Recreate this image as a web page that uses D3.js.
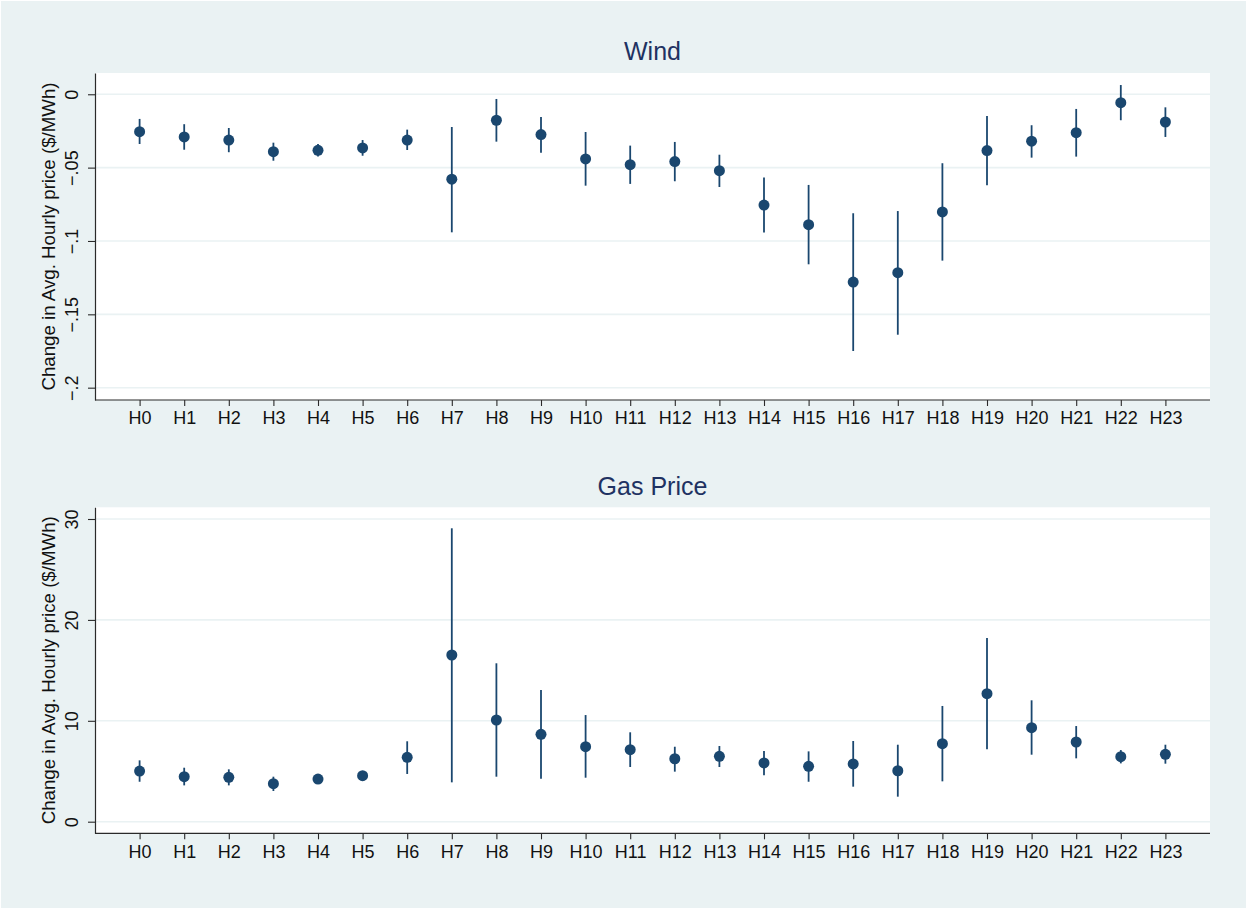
<!DOCTYPE html>
<html>
<head>
<meta charset="utf-8">
<script src="https://cdn.jsdelivr.net/npm/d3@7"></script>
<style>
  html, body { margin: 0; padding: 0; background: #ffffff; }
  svg { display: block; }
  text { font-family: "Liberation Sans", Arial, Helvetica, sans-serif; }
</style>
</head>
<body>
<svg id="chart" width="1247" height="910"></svg>
<script>
// ---- Data ----
const hours = ["H0","H1","H2","H3","H4","H5","H6","H7","H8","H9","H10","H11",
               "H12","H13","H14","H15","H16","H17","H18","H19","H20","H21","H22","H23"];

const windCoef = [-0.0255,-0.0291,-0.0312,-0.0391,-0.0382,-0.0366,-0.0312,-0.0579,-0.0177,-0.0275,-0.0441,-0.0480,
                  -0.0459,-0.0521,-0.0755,-0.0889,-0.1280,-0.1216,-0.0802,-0.0384,-0.0320,-0.0262,-0.0057,-0.0189];
const windLo   = [-0.0339,-0.0378,-0.0395,-0.0453,-0.0425,-0.0419,-0.0380,-0.0941,-0.0323,-0.0398,-0.0623,-0.0611,
                  -0.0593,-0.0632,-0.0943,-0.1159,-0.1750,-0.1639,-0.1134,-0.0620,-0.0432,-0.0425,-0.0177,-0.0291];
const windHi   = [-0.0168,-0.0204,-0.0230,-0.0330,-0.0339,-0.0312,-0.0241,-0.0223,-0.0032,-0.0155,-0.0257,-0.0350,
                  -0.0325,-0.0412,-0.0568,-0.0618,-0.0811,-0.0796,-0.0470,-0.0148,-0.0211,-0.0100, 0.0063,-0.0089];

const gasCoef = [5.02,4.46,4.40,3.77,4.23,4.56,6.38,16.52,10.08,8.66,7.43,7.14,
                 6.24,6.48,5.82,5.49,5.72,5.05,7.73,12.69,9.32,7.90,6.44,6.68];
const gasLo   = [3.96,3.60,3.60,3.04,3.83,4.17,4.73,3.90,4.46,4.26,4.36,5.42,
                 4.96,5.42,4.60,3.96,3.47,2.48,4.00,7.17,6.64,6.28,5.78,5.75];
const gasHi   = [6.08,5.35,5.19,4.46,4.63,4.90,7.97,29.08,15.70,13.05,10.57,8.86,
                 7.43,7.50,7.01,6.97,8.00,7.63,11.47,18.21,12.03,9.48,7.10,7.63];

const windTicks = [0, -0.05, -0.1, -0.15, -0.2];
const windTickLabels = ["0", "\u2212.05", "\u2212.1", "\u2212.15", "\u2212.2"];
const gasTicks = [0, 10, 20, 30];
const gasTickLabels = ["0", "10", "20", "30"];

const yTitle = "Change in Avg. Hourly price ($/MWh)";

// ---- Style ----
const BG = "#eaf2f3";
const GRID = "#eaf2f3";
const MARK = "#1a476f";
const TITLE = "#1f3262";
const AXIS = "#2a2a2a";

const svg = d3.select("#chart");
svg.append("rect").attr("x", 1).attr("y", 1).attr("width", 1245).attr("height", 907).attr("fill", BG);

const xLeft = 95, xRight = 1210;
const x = d3.scaleLinear().domain([-1, 24]).range([xLeft, xRight]);

function panel(cfg) {
  const y = d3.scaleLinear().domain(cfg.yDomain).range([cfg.bottom, cfg.top]);
  const g = svg.append("g");

  // plot region
  g.append("rect").attr("x", xLeft).attr("y", cfg.top)
    .attr("width", xRight - xLeft).attr("height", cfg.bottom - cfg.top).attr("fill", "#ffffff");

  // gridlines
  g.append("g").selectAll("line").data(cfg.ticks).join("line")
    .attr("x1", xLeft).attr("x2", xRight)
    .attr("y1", d => y(d)).attr("y2", d => y(d))
    .attr("stroke", GRID).attr("stroke-width", 1.6);

  // title
  g.append("text").attr("x", (xLeft + xRight) / 2).attr("y", cfg.titleY)
    .attr("text-anchor", "middle").attr("font-size", 25).attr("fill", TITLE).text(cfg.title);

  // y axis
  const yAxis = d3.axisLeft(y).tickValues(cfg.ticks)
    .tickFormat((d, i) => cfg.tickLabels[i]).tickSizeInner(7).tickSizeOuter(0);
  const ya = g.append("g").attr("transform", `translate(${xLeft},0)`).call(yAxis);
  ya.select(".domain").attr("stroke", AXIS).attr("stroke-width", 1.2);
  ya.selectAll(".tick line").attr("stroke", AXIS).attr("stroke-width", 1.1);
  ya.selectAll(".tick text")
    .attr("transform", "rotate(-90)")
    .attr("x", 0).attr("y", -17).attr("dy", 0)
    .attr("text-anchor", "middle")
    .attr("font-size", 18).attr("fill", "#111")
    .attr("font-family", "'Liberation Sans', Arial, sans-serif");

  // y title
  g.append("text")
    .attr("transform", `translate(55,${(cfg.top + cfg.bottom) / 2}) rotate(-90)`)
    .attr("text-anchor", "middle").attr("font-size", 18.7).attr("fill", "#111")
    .text(yTitle);

  // x axis
  const xAxis = d3.axisBottom(x).tickValues(d3.range(hours.length))
    .tickFormat(i => hours[i]).tickSizeInner(6).tickSizeOuter(0).tickPadding(5.5);
  const xa = g.append("g").attr("transform", `translate(0,${cfg.bottom})`).call(xAxis);
  xa.select(".domain").attr("stroke", AXIS).attr("stroke-width", 1.2)
    .attr("d", `M${xLeft},0H${xRight}`);
  xa.selectAll(".tick line").attr("stroke", AXIS).attr("stroke-width", 1.1);
  xa.selectAll(".tick text").attr("font-size", 18).attr("fill", "#111")
    .attr("font-family", "'Liberation Sans', Arial, sans-serif");

  // error bars
  const idx = d3.range(hours.length);
  g.append("g").selectAll("line").data(idx).join("line")
    .attr("x1", i => x(i)).attr("x2", i => x(i))
    .attr("y1", i => y(cfg.lo[i])).attr("y2", i => y(cfg.hi[i]))
    .attr("stroke", MARK).attr("stroke-width", 1.8);

  // points
  g.append("g").selectAll("circle").data(idx).join("circle")
    .attr("cx", i => x(i)).attr("cy", i => y(cfg.coef[i])).attr("r", 5.5)
    .attr("fill", MARK);
}

panel({
  title: "Wind", titleY: 60, top: 73, bottom: 400,
  yDomain: [-0.2084, 0.0145], ticks: windTicks, tickLabels: windTickLabels,
  coef: windCoef, lo: windLo, hi: windHi
});

panel({
  title: "Gas Price", titleY: 495, top: 507.3, bottom: 833.3,
  yDomain: [-1.15, 31.16], ticks: gasTicks, tickLabels: gasTickLabels,
  coef: gasCoef, lo: gasLo, hi: gasHi
});
</script>
</body>
</html>
